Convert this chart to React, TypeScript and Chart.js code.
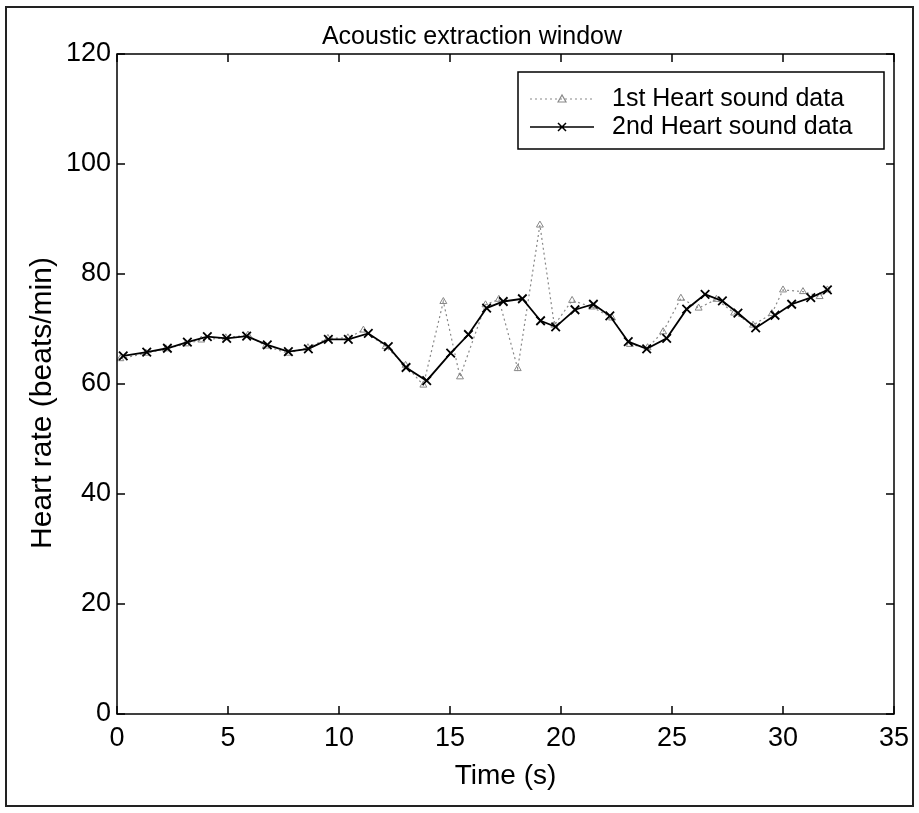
import React, { useEffect, useRef } from "react";
import { Chart, registerables } from "chart.js";

Chart.register(...registerables);

const FONT = "'Liberation Sans', Arial, Helvetica, sans-serif";

// 1st heart sound series (dotted, grey)
const timeFirst = [0.15, 1.3, 2.2, 3.1, 3.8, 4.9, 5.9, 6.7, 7.7, 8.6, 9.5, 10.4, 11.1, 12.1, 13.0, 13.8, 14.7, 15.45, 16.6, 17.2, 18.05, 19.05, 19.7, 20.5, 21.4, 22.3, 23.1, 23.9, 24.6, 25.4, 26.2, 27.0, 27.8, 28.65, 29.5, 30.0, 30.9, 31.65, 32.0];
const hrFirst = [64.6, 65.6, 66.4, 67.3, 68.0, 68.4, 68.9, 66.9, 65.6, 66.6, 68.3, 68.4, 69.8, 66.8, 63.4, 59.8, 75.0, 61.3, 74.4, 75.4, 62.8, 88.9, 70.7, 75.2, 74.0, 72.0, 67.2, 66.6, 69.5, 75.6, 73.8, 75.4, 72.9, 70.7, 72.8, 77.1, 76.8, 75.9, 77.1];

// 2nd heart sound series (solid, black, x markers)
const timeSecond = [0.28, 1.34, 2.27, 3.17, 4.07, 4.94, 5.84, 6.77, 7.72, 8.62, 9.52, 10.42, 11.32, 12.22, 13.02, 13.95, 15.03, 15.83, 16.65, 17.4, 18.26, 19.08, 19.76, 20.63, 21.46, 22.2, 23.03, 23.86, 24.76, 25.66, 26.49, 27.27, 27.97, 28.77, 29.64, 30.39, 31.25, 32.0];
const hrSecond = [65.1, 65.8, 66.5, 67.6, 68.6, 68.3, 68.7, 67.1, 65.9, 66.4, 68.1, 68.1, 69.2, 66.8, 63.0, 60.6, 65.6, 69.0, 73.8, 75.0, 75.5, 71.5, 70.4, 73.5, 74.5, 72.4, 67.7, 66.4, 68.3, 73.6, 76.3, 75.1, 72.9, 70.2, 72.5, 74.5, 75.7, 77.1];

const xTicks = [0, 5, 10, 15, 20, 25, 30, 35];
const yTicks = [0, 20, 40, 60, 80, 100, 120];

const titleText = "Acoustic extraction window";
const xTitle = "Time (s)";
const yTitle = "Heart rate (beats/min)";
const seriesNames = ["1st Heart sound data", "2nd Heart sound data"];

const decor = {
  id: "decor",
  beforeDraw(chart: any) {
    const ctx = chart.ctx;
    ctx.save();
    ctx.fillStyle = "#ffffff";
    ctx.fillRect(0, 0, chart.width, chart.height);
    ctx.strokeStyle = "#222";
    ctx.lineWidth = 2;
    ctx.strokeRect(6, 7, 907, 799);
    ctx.restore();
  },
  afterDraw(chart: any) {
    const ctx = chart.ctx;
    const a = chart.chartArea;
    const xs = chart.scales.x;
    const ys = chart.scales.y;
    ctx.save();
    ctx.strokeStyle = "#000";
    ctx.lineWidth = 1.5;
    ctx.strokeRect(a.left, a.top, a.right - a.left, a.bottom - a.top);
    const tl = 8;
    ctx.beginPath();
    xTicks.forEach((v) => {
      const p = xs.getPixelForValue(v);
      ctx.moveTo(p, a.bottom);
      ctx.lineTo(p, a.bottom - tl);
      ctx.moveTo(p, a.top);
      ctx.lineTo(p, a.top + tl);
    });
    yTicks.forEach((v) => {
      const p = ys.getPixelForValue(v);
      ctx.moveTo(a.left, p);
      ctx.lineTo(a.left + tl, p);
      ctx.moveTo(a.right, p);
      ctx.lineTo(a.right - tl, p);
    });
    ctx.stroke();

    ctx.fillStyle = "#000";
    ctx.textAlign = "center";
    ctx.textBaseline = "middle";
    ctx.font = `25px ${FONT}`;
    ctx.fillText(titleText, 472, 37);
    ctx.font = `28px ${FONT}`;
    ctx.fillText(xTitle, (a.left + a.right) / 2, 776);
    ctx.save();
    ctx.translate(43, 403);
    ctx.rotate(-Math.PI / 2);
    ctx.font = `30px ${FONT}`;
    ctx.fillText(yTitle, 0, 0);
    ctx.restore();

    // legend
    const lx = 518, ly = 72, lw = 366, lh = 77;
    ctx.fillStyle = "#fff";
    ctx.fillRect(lx, ly, lw, lh);
    ctx.strokeStyle = "#000";
    ctx.lineWidth = 1.5;
    ctx.strokeRect(lx, ly, lw, lh);
    const rows = [99, 127];
    // row 1
    ctx.save();
    ctx.strokeStyle = "#888";
    ctx.lineWidth = 1.2;
    ctx.setLineDash([2, 3]);
    ctx.beginPath();
    ctx.moveTo(530, rows[0]);
    ctx.lineTo(594, rows[0]);
    ctx.stroke();
    ctx.setLineDash([]);
    ctx.beginPath();
    ctx.moveTo(562 - 4, rows[0] + 3);
    ctx.lineTo(562, rows[0] - 4);
    ctx.lineTo(562 + 4, rows[0] + 3);
    ctx.closePath();
    ctx.stroke();
    ctx.restore();
    // row 2
    ctx.strokeStyle = "#000";
    ctx.lineWidth = 1.5;
    ctx.beginPath();
    ctx.moveTo(530, rows[1]);
    ctx.lineTo(594, rows[1]);
    ctx.moveTo(562 - 4, rows[1] - 4);
    ctx.lineTo(562 + 4, rows[1] + 4);
    ctx.moveTo(562 + 4, rows[1] - 4);
    ctx.lineTo(562 - 4, rows[1] + 4);
    ctx.stroke();
    ctx.fillStyle = "#000";
    ctx.textAlign = "left";
    ctx.font = `25px ${FONT}`;
    ctx.fillText(seriesNames[0], 612, rows[0]);
    ctx.fillText(seriesNames[1], 612, rows[1]);
    ctx.restore();
  },
};

export default function App() {
  const ref = useRef<HTMLCanvasElement>(null);
  useEffect(() => {
    const canvas = ref.current!;
    const chart = new Chart(canvas, {
      type: "line",
      data: {
        datasets: [
          {
            label: seriesNames[0],
            data: timeFirst.map((t, i) => ({ x: t, y: hrFirst[i] })),
            borderColor: "#888",
            borderWidth: 1.2,
            borderDash: [2, 3],
            pointStyle: "triangle",
            pointRadius: 4,
            pointBorderColor: "#888",
            pointBackgroundColor: "rgba(0,0,0,0)",
            pointBorderWidth: 1,
            tension: 0,
            order: 1,
          },
          {
            label: seriesNames[1],
            data: timeSecond.map((t, i) => ({ x: t, y: hrSecond[i] })),
            borderColor: "#000",
            borderWidth: 1.8,
            pointStyle: "crossRot",
            pointRadius: 6,
            pointBorderColor: "#000",
            pointBorderWidth: 1.8,
            tension: 0,
            order: 0,
          },
        ],
      },
      options: {
        responsive: false,
        devicePixelRatio: 1,
        animation: false,
        layout: { padding: { top: 54, right: 25, left: 0, bottom: 0 } },
        plugins: {
          legend: { display: false },
          title: { display: false },
          tooltip: { enabled: false },
        },
        scales: {
          x: {
            type: "linear",
            min: 0,
            max: 35,
            afterBuildTicks: (s: any) => {
              s.ticks = xTicks.map((v) => ({ value: v }));
            },
            ticks: {
              font: { family: FONT, size: 27 },
              color: "#000",
              padding: 8,
              maxRotation: 0,
              autoSkip: false,
            },
            grid: { display: false, drawTicks: false, tickLength: 0 },
            border: { display: false },
            afterFit: (s: any) => {
              s.height = 99;
            },
          },
          y: {
            type: "linear",
            min: 0,
            max: 120,
            afterBuildTicks: (s: any) => {
              s.ticks = yTicks.map((v) => ({ value: v }));
            },
            ticks: {
              font: { family: FONT, size: 27 },
              color: "#000",
              padding: 6,
              autoSkip: false,
            },
            grid: { display: false, drawTicks: false, tickLength: 0 },
            border: { display: false },
            afterFit: (s: any) => {
              s.width = 117;
            },
          },
        },
      },
      plugins: [decor],
    });
    return () => chart.destroy();
  }, []);
  return (
    <canvas
      ref={ref}
      width={919}
      height={813}
      style={{ position: "fixed", left: 0, top: 0, width: 919, height: 813 }}
    />
  );
}
